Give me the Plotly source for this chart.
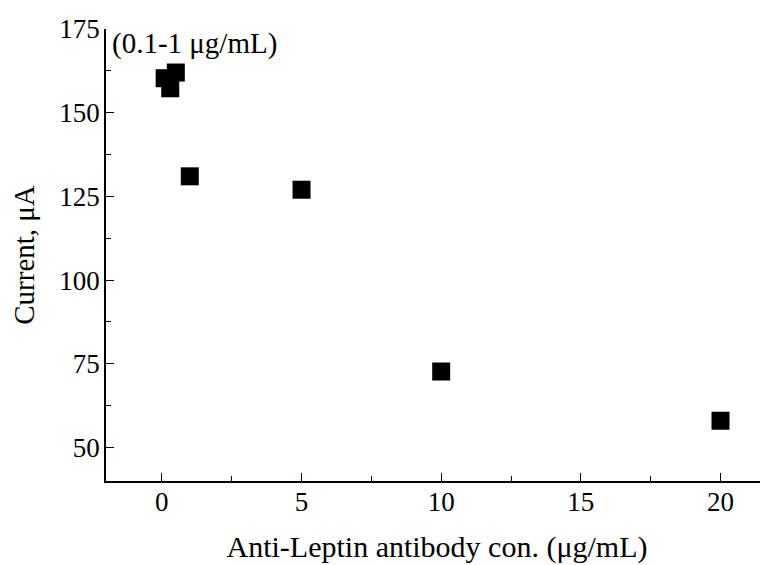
import plotly.graph_objects as go

conc = [0.1, 0.3, 0.5, 1, 5, 10, 20]
current = [160.3, 157.3, 162.0, 131.0, 127.0, 72.7, 58.0]
x_ticks = [0, 5, 10, 15, 20]
y_ticks = [50, 75, 100, 125, 150, 175]

FONT = "Liberation Serif, Times New Roman, serif"

fig = go.Figure()
fig.add_trace(go.Scatter(
    x=conc, y=current, mode="markers",
    marker=dict(symbol="square", size=18, color="black", line=dict(width=0)),
    showlegend=False,
))

axis_common = dict(
    showline=True, linecolor="black", linewidth=1.5,
    ticks="inside", ticklen=8, tickwidth=1.2, tickcolor="black",
    showgrid=False, zeroline=False, mirror=False, automargin=False,
    tickfont=dict(family=FONT, size=27, color="black"),
)

fig.update_xaxes(
    range=[-2, 21.7], tickvals=x_ticks,
    minor=dict(ticks="inside", ticklen=5, tickwidth=1.2, tickcolor="black", dtick=2.5, tick0=0),
    title=dict(text="Anti-Leptin antibody con. (μg/mL)", font=dict(family=FONT, size=30, color="black"), standoff=20),
    ticklabelstandoff=-4,
    **axis_common,
)
fig.update_yaxes(
    range=[40, 175], tickvals=y_ticks,
    minor=dict(ticks="inside", ticklen=5, tickwidth=1.2, tickcolor="black", dtick=12.5, tick0=0),
    title=dict(text="Current, μA", font=dict(family=FONT, size=29, color="black"), standoff=17),
    ticklabelstandoff=-1,
    **axis_common,
)

fig.add_annotation(
    x=0, y=1, xref="paper", yref="paper", xanchor="left", yanchor="top",
    xshift=4, yshift=4,
    text="(0.1-1 μg/mL)", showarrow=False,
    font=dict(family=FONT, size=29, color="black"),
)

# the page body has an 8px default margin, so the figure starts at (8, 8)
fig.update_layout(
    width=760, height=557,
    margin=dict(l=98, r=0, t=21, b=84),
    plot_bgcolor="white", paper_bgcolor="white",
)

fig.write_html("out.html")
